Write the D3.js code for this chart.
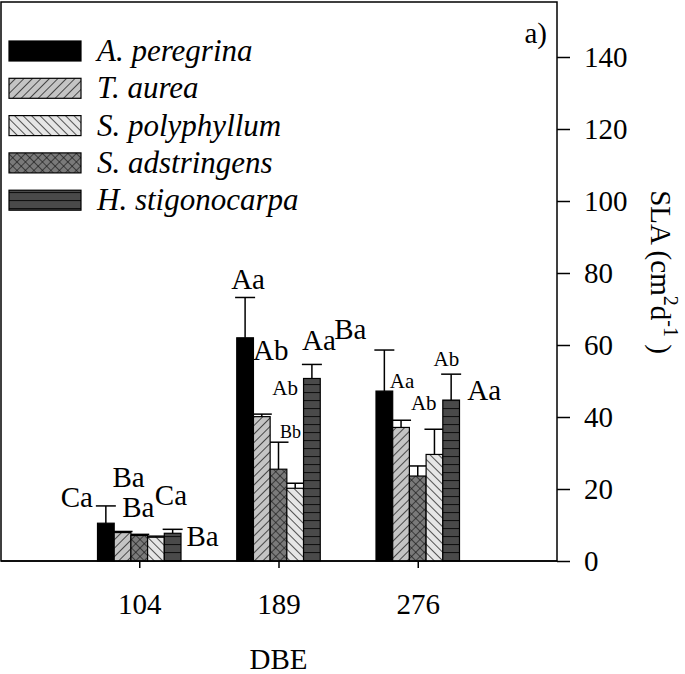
<!DOCTYPE html>
<html><head><meta charset="utf-8">
<script src="https://cdn.jsdelivr.net/npm/d3@7"></script>
<style>body{margin:0;background:#fff}svg{display:block}</style>
</head><body><div id="c"></div>
<script>
// ---- data ----
const categories = ["104", "189", "276"];
const seriesNames = ["A. peregrina", "T. aurea", "S. polyphyllum", "S. adstringens", "H. stigonocarpa"];
const aPeregrina   = [10.5, 62.0, 47.2];
const tAurea       = [7.9, 40.1, 37.1];
const sPolyphyllum = [6.6, 20.2, 29.6];
const sAdstringens = [7.1, 25.5, 23.6];
const hStigonocarpa= [7.7, 50.7, 44.7];
const aPeregrinaErr   = [4.8, 11.2, 11.4];
const tAureaErr       = [0.3, 0.7, 2.0];
const sPolyphyllumErr = [0.3, 1.4, 7.0];
const sAdstringensErr = [0.3, 7.5, 2.8];
const hStigonocarpaErr= [1.1, 3.9, 7.2];
const aPeregrinaLbl   = ["Ca", "Aa", "Ba"];
const tAureaLbl       = ["Ba", "Ab", "Aa"];
const sPolyphyllumLbl = ["Ca", "Ab", "Ab"];
const sAdstringensLbl = ["Ba", "Bb", "Ab"];
const hStigonocarpaLbl= ["Ba", "Aa", "Aa"];
const yTicks = [0, 20, 40, 60, 80, 100, 120, 140];

// ---- layout / style (not data) ----
const W = 685, H = 674;
const FONT = "'Liberation Serif', 'Times New Roman', Times, serif";
const plotLeft = 1, plotRight = 557, plotTop = 2, plotBottom = 561;
const drawOrder = [0, 1, 3, 2, 4];
const fills = ["url(#pBlack)", "url(#pFwd)", "url(#pBack)", "url(#pCross)", "url(#pHoriz)"];
const lblLayout = [
  [[-29, 1, 29], [3, -8, 29], [-34, -11, 29]],
  [[6, -44, 29], [9, -54, 29], [1, -32, 21]],
  [[15, -31, 29], [-10, -88, 21], [12, -63, 21]],
  [[-1, -17, 29], [12, -4, 18], [6, -56, 21]],
  [[30, 17, 29], [7, -14, 29], [33, 26, 29]]
];

const values = [aPeregrina, tAurea, sPolyphyllum, sAdstringens, hStigonocarpa];
const errs = [aPeregrinaErr, tAureaErr, sPolyphyllumErr, sAdstringensErr, hStigonocarpaErr];
const lbls = [aPeregrinaLbl, tAureaLbl, sPolyphyllumLbl, sAdstringensLbl, hStigonocarpaLbl];

const svg = d3.select("#c").append("svg").attr("width", W).attr("height", H);
const defs = svg.append("defs");
function pat(id, bg, size, draw, rot) {
  const p = defs.append("pattern").attr("id", id).attr("patternUnits", "userSpaceOnUse")
    .attr("width", size).attr("height", size);
  if (rot) p.attr("patternTransform", "rotate(" + rot + ")");
  p.append("rect").attr("width", size).attr("height", size).attr("fill", bg);
  draw(p, size);
}
pat("pBlack", "#000", 4, () => {});
pat("pFwd", "#c4c4c4", 6, (p, s) => p.append("line").attr("x1", 0).attr("y1", 0).attr("x2", 0).attr("y2", s).attr("stroke", "#111").attr("stroke-width", 1.4), 45);
pat("pBack", "#e6e6e6", 6, (p, s) => p.append("line").attr("x1", 0).attr("y1", 0).attr("x2", 0).attr("y2", s).attr("stroke", "#111").attr("stroke-width", 1.4), -45);
pat("pCross", "#7a7a7a", 6, (p, s) => {
  p.append("line").attr("x1", 0).attr("y1", 0).attr("x2", 0).attr("y2", s).attr("stroke", "#111").attr("stroke-width", 1.2);
  p.append("line").attr("x1", 0).attr("y1", 0).attr("x2", s).attr("y2", 0).attr("stroke", "#111").attr("stroke-width", 1.2);
}, 45);
pat("pHoriz", "#4a4a4a", 8, (p, s) => p.append("line").attr("x1", 0).attr("y1", 0.5).attr("x2", s).attr("y2", 0.5).attr("stroke", "#111").attr("stroke-width", 1.2));

const x = d3.scaleLinear().domain([0, categories.length + 1]).range([0, plotRight]);
const y = d3.scaleLinear().domain([0, (plotBottom - plotTop) / (plotBottom - 57) * 140]).range([plotBottom, plotTop]);
const barW = 16.7;

svg.append("rect").attr("x", plotLeft).attr("y", plotTop).attr("width", plotRight - plotLeft).attr("height", plotBottom - plotTop)
  .attr("fill", "none").attr("stroke", "#000").attr("stroke-width", 1.5);

categories.forEach((c, ci) => {
  const cx = x(ci + 1);
  drawOrder.forEach((si, k) => {
    const bx = cx + (k - 2) * barW;
    const v = values[si][ci], e = errs[si][ci];
    svg.append("line").attr("x1", bx).attr("x2", bx).attr("y1", y(v)).attr("y2", y(v + e)).attr("stroke", "#000").attr("stroke-width", 1.5);
    svg.append("line").attr("x1", bx - 10).attr("x2", bx + 10).attr("y1", y(v + e)).attr("y2", y(v + e)).attr("stroke", "#000").attr("stroke-width", 1.5);
  });
  drawOrder.forEach((si, k) => {
    const bx = cx + (k - 2) * barW;
    const v = values[si][ci];
    svg.append("rect").attr("x", bx - barW / 2).attr("y", y(v)).attr("width", barW).attr("height", y(0) - y(v))
      .attr("fill", fills[si]).attr("stroke", "#000").attr("stroke-width", 1.2);
  });
  drawOrder.forEach((si, k) => {
    const bx = cx + (k - 2) * barW;
    const v = values[si][ci], e = errs[si][ci];
    const L = lblLayout[si][ci];
    svg.append("text").attr("x", bx + L[0]).attr("y", y(v + e) + L[1]).attr("text-anchor", "middle")
      .attr("font-size", L[2]).text(lbls[si][ci]);
  });
});

const xAxis = d3.axisBottom(x).tickValues(categories.map((c, i) => i + 1)).tickFormat((d) => categories[d - 1])
  .tickSizeInner(7).tickSizeOuter(0).tickPadding(46);
const gx = svg.append("g").attr("transform", "translate(0," + plotBottom + ")").call(xAxis);
gx.select(".domain").remove();
gx.selectAll("line").attr("stroke", "#000").attr("stroke-width", 1.5);
gx.selectAll("text").attr("font-size", 29).attr("dy", "0").attr("fill", "#000");
svg.append("line").attr("x1", plotLeft).attr("x2", plotRight).attr("y1", plotBottom).attr("y2", plotBottom).attr("stroke", "#000").attr("stroke-width", 1.5);

const yAxis = d3.axisRight(y).tickValues(yTicks).tickSizeInner(13).tickSizeOuter(0).tickPadding(14);
const gy = svg.append("g").attr("transform", "translate(" + plotRight + ",0)").call(yAxis);
gy.select(".domain").remove();
gy.selectAll("line").attr("stroke", "#000").attr("stroke-width", 1.5);
gy.selectAll("text").attr("font-size", 29).attr("fill", "#000");

svg.append("text").attr("x", x(2)).attr("y", 669).attr("text-anchor", "middle").attr("font-size", 29).text("DBE");
const yt = svg.append("text").attr("transform", "translate(651,272) rotate(90)").attr("text-anchor", "middle").attr("font-size", 29);
yt.append("tspan").text("SLA (cm");
yt.append("tspan").attr("dy", -13).attr("font-size", 20).text("2");
yt.append("tspan").attr("dy", 13).text("d");
yt.append("tspan").attr("dy", -13).attr("font-size", 20).text("-1");
yt.append("tspan").attr("dy", 13).text(" )");

svg.append("text").attr("x", 547).attr("y", 43).attr("text-anchor", "end").attr("font-size", 29).text("a)");

const leg = svg.append("g");
seriesNames.forEach((n, i) => {
  const cy = 51 + i * 37.3;
  leg.append("rect").attr("x", 9).attr("y", cy - 10).attr("width", 72).attr("height", 20)
    .attr("fill", fills[i]).attr("stroke", "#000").attr("stroke-width", 1.2);
  leg.append("text").attr("x", 97).attr("y", cy + 10).attr("font-size", 31).style("font-style", "italic").text(n);
});

svg.selectAll("text").style("font-family", FONT).style("fill", "#000");
</script></body></html>
